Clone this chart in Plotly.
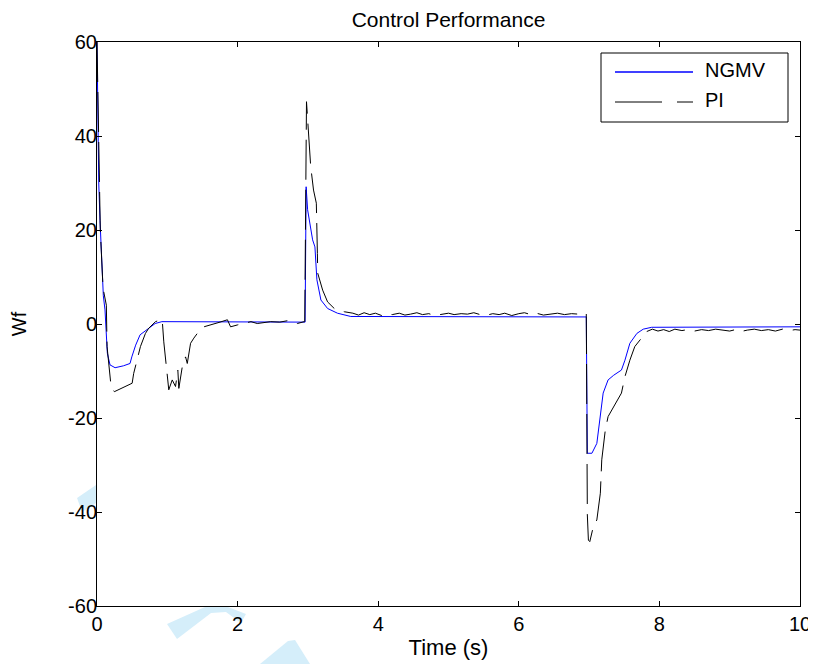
import plotly.graph_objects as go

# ---------------- data ----------------
ngmv_t = [0, 0.01, 0.025, 0.043, 0.067, 0.09, 0.114, 0.128, 0.147, 0.185, 0.257, 0.375,
          0.47, 0.495, 0.55, 0.613, 0.709, 0.827, 0.923, 2.96, 2.975, 2.996, 3.067, 3.10,
          3.128, 3.185, 3.28, 3.42, 3.61, 6.96, 6.975, 7.04, 7.11, 7.16, 7.2, 7.27, 7.35,
          7.46, 7.51, 7.58, 7.68, 7.77, 7.89, 10]
ngmv_v = [60, 45, 30, 22, 11.5, 6, 3, -1.3, -6.2, -8.7, -9.3, -8.9,
          -8.4, -7.0, -4.5, -2.3, -1.3, 0.1, 0.5, 0.4, 29.2, 24.3, 17.9, 16.4,
          9.4, 5.1, 3.3, 2.3, 1.6, 1.5, -27.5, -27.5, -25.4, -19.0, -14.7, -11.9, -10.9,
          -9.8, -7.7, -4.1, -2.0, -1.1, -0.7, -0.6]

pi_t = [0, 0.015, 0.03, 0.047, 0.086, 0.133, 0.143, 0.2, 0.247, 0.33, 0.428, 0.5, 0.522,
        0.618, 0.689, 0.736, 0.832, 0.927, 0.95, 0.974, 1.007, 1.021, 1.07, 1.117, 1.15,
        1.164, 1.213, 1.26, 1.284, 1.331, 1.378, 1.427, 1.52, 1.6, 1.663, 1.75, 1.855,
        1.9, 1.997, 2.1, 2.19, 2.28, 2.38, 2.47, 2.6, 2.71, 2.78, 2.85, 2.947, 2.955,
        2.98, 3.02, 3.04, 3.08, 3.12, 3.135, 3.14, 3.21, 3.28, 3.375, 3.52, 3.64,
        3.72, 3.8, 3.88, 3.96, 4.05, 4.12, 4.2, 4.3, 4.38, 4.46, 4.55, 4.63, 4.72, 4.8,
        4.9, 5.0, 5.08, 5.18, 5.27, 5.36, 5.45, 5.55, 5.63, 5.72, 5.8, 5.9, 6.0, 6.08,
        6.17, 6.25, 6.35, 6.45, 6.55, 6.65, 6.75, 6.85, 6.96,
        6.975, 6.99, 7.01, 7.06, 7.11, 7.13, 7.16, 7.18, 7.2, 7.23, 7.27, 7.35, 7.46,
        7.51, 7.58, 7.65, 7.74, 7.82, 7.9, 7.98, 8.06, 8.14, 8.22, 8.32, 8.4, 8.5, 8.6,
        8.7, 8.8, 8.9, 9.0, 9.08, 9.16, 9.25, 9.35, 9.45, 9.55, 9.65, 9.75, 9.85, 9.93, 10]
pi_v = [60, 48, 30, 20, 7.6, 4.0, -4.8, -13.3, -14.4, -13.8, -13.0, -12.6, -10.5,
        -4.8, -2.0, -0.9, 0.5, 1.0, -3.8, -7.0, -11.2, -14.0, -11.9, -13.3, -9.8,
        -13.7, -9.1, -7.0, -8.4, -4.1, -3.0, -2.0, -0.6, -0.2, 0.1, 0.4, 0.9,
        -0.6, -0.2, 0.2, 0.5, 0.1, 0.3, 0.5, 0.4, 0.7, 0.3, 0.1, 0.5, 0.5,
        47.3, 36.7, 33.5, 28.5, 25.7, 15.0, 10.8, 7.2, 4.7, 3.3, 2.6, 2.3,
        1.9, 2.4, 2.0, 2.3, 1.8, 2.2, 2.0, 2.3, 1.9, 2.1, 2.4, 2.0, 2.2, 1.8,
        2.1, 2.3, 2.0, 2.2, 2.1, 2.4, 2.0, 1.9, 2.2, 2.0, 2.3, 1.8, 2.2, 2.4,
        2.0, 2.3, 1.9, 2.1, 2.3, 2.0, 2.2, 2.1, 2.3,
        -40.6, -46.0, -46.3, -43.1, -41.7, -39.2, -36.0, -28.9, -26.1, -22.6, -19.7, -17.6, -14.7,
        -11.2, -7.7, -4.8, -3.0, -1.6, -1.1, -1.5, -1.2, -1.6, -1.1, -1.4, -1.2, -1.5, -1.2,
        -1.4, -1.1, -1.3, -1.5, -1.2, -1.6, -1.3, -1.1, -1.4, -1.2, -1.5, -1.1, -1.4, -1.2, -1.3]

series_names = ["NGMV", "PI"]
series_colors = ["#0000ff", "#000000"]
series_dash = ["solid", "40px,10px"]
x_ticks = [0, 2, 4, 6, 8, 10]
y_ticks = [-60, -40, -20, 0, 20, 40, 60]

# ---------------- layout geometry (page pixels; body has an 8px margin) ----------------
OFF = 8
W, H = 808, 656
L, R, T, B = 89, 16, 34, 58
PW, PH = W - L - R, H - T - B
FONT = "Liberation Sans, Arial, Helvetica, sans-serif"

# page-pixel extents of the plotting box (used by an invisible overlay axis for the legend)
BOX_X = [OFF + L, OFF + L + PW]
BOX_Y = [OFF + T + PH, OFF + T]

def px2paper(px, py):
    fx, fy = px - OFF, py - OFF
    return ((fx - L) / PW, (H - B - fy) / PH)

fig = go.Figure()
fig.add_trace(go.Scatter(x=ngmv_t, y=ngmv_v, mode="lines", name=series_names[0],
                         showlegend=False,
                         line=dict(color=series_colors[0], width=1, dash=series_dash[0])))
fig.add_trace(go.Scatter(x=pi_t, y=pi_v, mode="lines", name=series_names[1],
                         showlegend=False,
                         line=dict(color=series_colors[1], width=1, dash=series_dash[1])))

# MATLAB-style legend: samples on an invisible pixel-space overlay axis
leg_rows = [72, 102]
leg_dash = ["solid", "47px,15px"]
leg_width = [1.3, 1]
for ly, name, col, dash, lw in zip(leg_rows, series_names, series_colors, leg_dash, leg_width):
    fig.add_trace(go.Scatter(x=[615, 693], y=[ly, ly], xaxis="x2", yaxis="y2",
                             mode="lines", name=name + " (legend)", showlegend=False,
                             hoverinfo="skip", cliponaxis=False,
                             line=dict(color=col, width=lw, dash=dash)))
    tx, ty = px2paper(703, ly - 1.5)
    fig.add_annotation(x=tx, y=ty, xref="paper", yref="paper", text=name, showarrow=False,
                       xanchor="left", yanchor="middle",
                       font=dict(family=FONT, size=20, color="black"))
x0, y0 = px2paper(601, 53)
x1, y1 = px2paper(788, 122)
fig.add_shape(type="rect", xref="paper", yref="paper", x0=x0, y0=y1, x1=x1, y1=y0,
              line=dict(color="black", width=1), fillcolor="rgba(0,0,0,0)", layer="above")

# faint watermark strokes outside the axes
def poly(points):
    pts = [px2paper(*p) for p in points]
    return "M " + " L ".join(f"{x:.4f},{y:.4f}" for x, y in pts) + " Z"

wm = "#d5eefa"
for pts in [
    [(77, 498), (96, 485), (96, 503), (82, 512)],
    [(167, 624), (205, 607), (228, 607), (246, 614), (241, 623), (226, 612), (211, 613), (177, 639)],
    [(260, 664), (288, 641), (295, 640), (310, 664)],
]:
    fig.add_shape(type="path", path=poly(pts), xref="paper", yref="paper",
                  fillcolor=wm, line=dict(width=0), layer="below")

axis_common = dict(showgrid=False, zeroline=False, showline=True, linecolor="black",
                   linewidth=1, mirror="ticks", ticks="inside", ticklen=5,
                   tickcolor="black", tickwidth=1,
                   tickfont=dict(family=FONT, size=20, color="black"))

fig.update_layout(
    width=W, height=H,
    margin=dict(l=L, r=R, t=T, b=B, autoexpand=False),
    paper_bgcolor="white", plot_bgcolor="white",
    xaxis=dict(range=[0, 10], tickvals=x_ticks, ticktext=[str(v) for v in x_ticks],
               title=dict(text="Time (s)", font=dict(family=FONT, size=22, color="black"),
                          standoff=5),
               **axis_common),
    yaxis=dict(range=[-60, 60], tickvals=y_ticks, ticktext=[str(v) for v in y_ticks],
               ticklabelstandoff=-5,
               title=dict(text="Wf", font=dict(family=FONT, size=20, color="black"),
                          standoff=36),
               **axis_common),
    xaxis2=dict(overlaying="x", range=BOX_X, visible=False, fixedrange=True),
    yaxis2=dict(overlaying="y", range=BOX_Y, visible=False, fixedrange=True),
    title=dict(text="Control Performance", x=0.5, xref="paper", xanchor="center",
               y=1 - 12 / H, yref="container", yanchor="middle",
               font=dict(family=FONT, size=21, color="black")),
    showlegend=False,
)

fig.write_html("out.html")
